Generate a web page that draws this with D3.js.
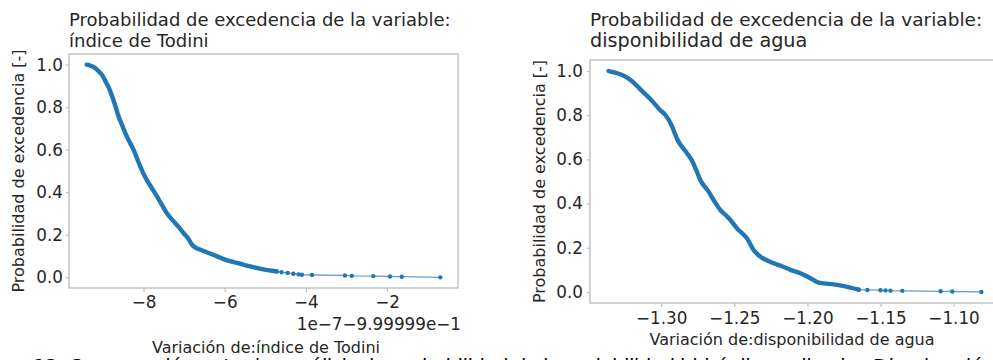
<!DOCTYPE html>
<html>
<head>
<meta charset="utf-8">
<script src="https://cdn.jsdelivr.net/npm/d3@7"></script>
<style>
  body { margin: 0; background: #fff; }
  svg { display: block; }
  text { font-family: "DejaVu Sans", sans-serif; fill: #262626; }
</style>
</head>
<body>
<div id="plot"></div>
<script>
// valores: variación del índice de Todini (offset 1e-7 - 9.99999e-1)
var todiniX = [-9.40, -9.30, -9.20, -9.10, -9.00, -8.92, -8.85, -8.78, -8.70, -8.62, -8.52, -8.44,
    -8.34, -8.24, -8.12, -8.02, -7.91, -7.78, -7.66, -7.54, -7.42, -7.28, -7.13, -7.00, -6.89,
    -6.83, -6.76, -6.68, -6.60, -6.43, -6.20, -5.94, -5.78, -5.62, -5.40, -5.13, -4.95, -4.85, -4.72, -4.60,
    -4.45, -4.31, -4.18, -4.10, -3.85, -3.04, -2.87, -2.34, -1.93, -1.64, -0.69];
var todiniP = [1.000, 0.995, 0.985, 0.968, 0.945, 0.915, 0.890, 0.855, 0.810, 0.760, 0.712, 0.675,
    0.635, 0.598, 0.540, 0.495, 0.455, 0.415, 0.378, 0.338, 0.300, 0.268, 0.236, 0.205, 0.180,
    0.160, 0.145, 0.136, 0.130, 0.117, 0.100, 0.080, 0.072, 0.064, 0.053, 0.041, 0.034, 0.031, 0.028, 0.024,
    0.021, 0.017, 0.014, 0.012, 0.011, 0.009, 0.007, 0.006, 0.004, 0.003, 0.000];
var todiniDense = 39;   // puntos iniciales tan juntos que forman un trazo continuo
var todiniTicksX = [-8, -6, -4, -2];

// variación de la disponibilidad de agua
var aguaX = [-1.336, -1.331, -1.326, -1.321, -1.314, -1.307, -1.301, -1.297, -1.293, -1.289,
    -1.2824, -1.279, -1.276, -1.2733, -1.2676, -1.2636, -1.2596, -1.2555, -1.2527, -1.2482,
    -1.2414, -1.2368, -1.2322, -1.2231, -1.2170, -1.2116, -1.2048, -1.1979, -1.1923, -1.1888,
    -1.1797, -1.1705, -1.1649, -1.1590, -1.1500, -1.1466, -1.1432, -1.1351, -1.1089, -1.1009, -1.0810];
var aguaP = [1.000, 0.992, 0.980, 0.960, 0.915, 0.870, 0.825, 0.800, 0.755, 0.690,
    0.628, 0.595, 0.550, 0.507, 0.454, 0.410, 0.371, 0.345, 0.326, 0.288,
    0.243, 0.190, 0.160, 0.130, 0.115, 0.100, 0.085, 0.062, 0.042, 0.039,
    0.032, 0.020, 0.010, 0.009, 0.008, 0.007, 0.006, 0.005, 0.003, 0.002, 0.000];
var aguaDense = 33;
var aguaTicksX = [-1.30, -1.25, -1.20, -1.15, -1.10];

var probTicks = [0.0, 0.2, 0.4, 0.6, 0.8, 1.0];

var width = 993;
var height = 360;
var blue = "#1f77b4";

var svg = d3.select("#plot").append("svg").attr("width", width).attr("height", height);

function minus(s) { return s.replace("-", "\u2212"); }

function plotExcedencia(o) {
    var data = o.xs.map(function(x, i) { return {x: x, p: o.ps[i]}; });

    var ext = d3.extent(o.xs);
    var m = (ext[1] - ext[0]) * 0.05;
    var xScale = d3.scaleLinear().domain([ext[0] - m, ext[1] + m]).range([o.left, o.right]);
    var yScale = d3.scaleLinear().domain([-0.05, 1.05]).range([o.bottom, o.top]);

    var g = svg.append("g");

    // marco
    g.append("rect")
        .attr("x", o.left).attr("y", o.top)
        .attr("width", o.right - o.left).attr("height", o.bottom - o.top)
        .attr("fill", "none").attr("stroke", "#c8c8c8").attr("stroke-width", 1.6);

    var xAxis = g.append("g")
        .attr("transform", "translate(0," + o.bottom + ")")
        .call(d3.axisBottom(xScale).tickValues(o.ticksX).tickSize(4).tickPadding(o.xPad)
            .tickFormat(function(d) { return minus(d3.format(o.fmt)(d)); }));
    var yAxis = g.append("g")
        .attr("transform", "translate(" + o.left + ",0)")
        .call(d3.axisLeft(yScale).tickValues(probTicks).tickSize(3).tickPadding(o.yPad)
            .tickFormat(d3.format(".1f")));
    [xAxis, yAxis].forEach(function(a) {
        a.select(".domain").remove();
        a.selectAll("line").attr("stroke", "#bdbdbd").attr("stroke-width", 1.2);
        a.selectAll("text").attr("font-size", o.tickSize).attr("fill", "#262626")
            .attr("font-family", "DejaVu Sans");
    });

    var line = d3.line().x(function(d) { return xScale(d.x); }).y(function(d) { return yScale(d.p); });

    // línea fina entre todos los puntos
    g.append("path").datum(data)
        .attr("d", line).attr("fill", "none")
        .attr("stroke", blue).attr("stroke-opacity", 0.7).attr("stroke-width", 1.3);

    // tramo denso: los marcadores se solapan y forman un trazo grueso
    g.append("path").datum(data.slice(0, o.denseN))
        .attr("d", line.curve(d3.curveMonotoneX)).attr("fill", "none")
        .attr("stroke", blue).attr("stroke-width", 4.4)
        .attr("stroke-linecap", "round").attr("stroke-linejoin", "round");

    g.selectAll("circle").data(data.slice(o.denseN - 1)).enter().append("circle")
        .attr("cx", function(d) { return xScale(d.x); })
        .attr("cy", function(d) { return yScale(d.p); })
        .attr("r", 2.2).attr("fill", blue);

    // títulos
    g.append("text").attr("x", o.left).attr("y", 26).attr("font-size", o.titleSize)
        .text("Probabilidad de excedencia de la variable:");
    g.append("text").attr("x", o.left).attr("y", 47).attr("font-size", o.title2Size)
        .text(o.title2);

    g.append("text")
        .attr("transform", "translate(" + o.yLabelX + "," + (o.top + o.bottom) / 2 + ") rotate(-90)")
        .attr("text-anchor", "middle").attr("font-size", 16)
        .text("Probabilidad de excedencia [-]");

    g.append("text").attr("x", o.xLabelCx).attr("y", o.xLabelY)
        .attr("text-anchor", "middle").attr("font-size", 16)
        .text(o.xLabel);

    if (o.offset) {
        g.append("text").attr("x", o.right + 3).attr("y", o.bottom + 42)
            .attr("text-anchor", "end").attr("font-size", o.tickSize)
            .text(o.offset);
    }
}

plotExcedencia({
    xs: todiniX, ps: todiniP, denseN: todiniDense, ticksX: todiniTicksX, fmt: "d",
    left: 69, right: 458, top: 54, bottom: 288,
    xPad: 4, yPad: 3, tickSize: 16.8,
    titleSize: 18, title2Size: 18, title2: "índice de Todini",
    yLabelX: 24, xLabelCx: 266, xLabelY: 353,
    xLabel: "Variación de:índice de Todini",
    offset: "1e\u22127\u22129.99999e\u22121"
});

plotExcedencia({
    xs: aguaX, ps: aguaP, denseN: aguaDense, ticksX: aguaTicksX, fmt: ".2f",
    left: 590, right: 1000, top: 60, bottom: 303,
    xPad: 5, yPad: 4, tickSize: 16.8,
    titleSize: 18.5, title2Size: 19.2, title2: "disponibilidad de agua",
    yLabelX: 545, xLabelCx: 792, xLabelY: 345,
    xLabel: "Variación de:disponibilidad de agua"
});

// pie de figura (cortado por el borde inferior en la imagen original)
svg.append("text").attr("x", 33).attr("y", 373)
    .attr("font-family", "Liberation Serif").attr("font-size", 20).style("fill", "#000")
    .attr("textLength", 830).attr("lengthAdjust", "spacing")
    .text("12. Comparación entre los análisis de probabilidad de la variabilidad hidráulica aplicada.");
svg.append("text").attr("x", 873).attr("y", 373)
    .attr("font-family", "Liberation Serif").attr("font-size", 20).style("fill", "#000")
    .text("Disminución del índice");
</script>
</body>
</html>
